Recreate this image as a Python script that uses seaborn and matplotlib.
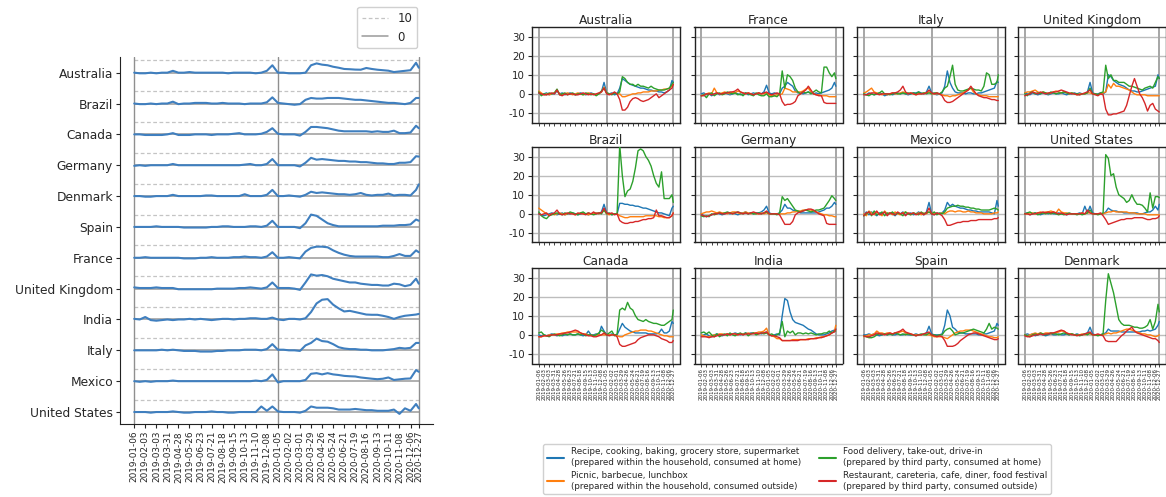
import numpy as np
import pandas as pd
import matplotlib
matplotlib.use("Agg")
import matplotlib.pyplot as plt
from matplotlib.lines import Line2D
import seaborn as sns

# ---------------------------------------------------------------------------
# Weekly search-interest changes (2019-01-06 .. 2020-12-27), sampled every
# second week plus the final week -> 53 values per series.
# ---------------------------------------------------------------------------
WEEKS = pd.date_range("2019-01-06", "2020-12-27", freq="W-SUN")
SAMPLE_DATES = WEEKS[::2].append(WEEKS[-1:])
TICK_DATES = WEEKS[::4].append(WEEKS[-1:])
TICK_LABELS = [d.strftime("%Y-%m-%d") for d in TICK_DATES]
YEAR_MARKS = [WEEKS[0], pd.Timestamp("2020-01-05"), WEEKS[-1]]

RIDGE_ORDER = ["Australia", "Brazil", "Canada", "Germany", "Denmark", "Spain",
               "France", "United Kingdom", "India", "Italy", "Mexico",
               "United States"]

GRID_ORDER = [["Australia", "France", "Italy", "United Kingdom"],
              ["Brazil", "Germany", "Mexico", "United States"],
              ["Canada", "India", "Spain", "Denmark"]]

CATEGORIES = [
    "Recipe, cooking, baking, grocery store, supermarket\n(prepared within the household, consumed at home)",
    "Picnic, barbecue, lunchbox\n(prepared within the household, consumed outside)",
    "Food delivery, take-out, drive-in\n(prepared by third party, consumed at home)",
    "Restaurant, careteria, cafe, diner, food festival\n(prepared by third party, consumed outside)",
]
PALETTE = ["#1f77b4", "#ff7f0e", "#2ca02c", "#d62728"]

# overall food-related interest (left ridge chart)
OVERALL = {
    "Australia": [0,-0.5,-0.5,0,-0.5,0,0,1.5,0,0,0.5,0,0,0,0,0,0,-0.5,0,0,0,0,-0.5,0,1.5, 6,
                  0,0,-0.5,-0.5,-0.5,
                  0,6,7.5,6.5,6,4.8,4,3,2.8,2.5,2.4,3.8,3,2.4,2,1.6,0.5,1,1.5,2,8,4],
    "Brazil": [0,-0.5,-0.5,0,-0.5,0,0,1.5,-0.5,0,0,0.5,0.5,0.5,0,0,0.5,0,0,0,-0.5,0,0,0,1, 5,
               0.5,0,-0.5,-1,-0.5,
               3,4.5,4,4,4.5,4.5,4.5,4,3.5,3,3,2.5,2,1.5,1,0.5,0.5,0,-0.5,0.5,4.5,4.5],
    "Canada": [0,0,-0.5,-0.5,-0.5,-0.5,0,1,-0.5,-0.5,-0.5,0,0,0,-0.5,0,0,0,0.5,1,0,0,0,0.5,2, 5,
               0.5,0,0,0,-1,
               2,6,6,5.5,5,4,3,2.5,2.5,2.5,2.5,2.5,2,2.5,2,2,3,1,1,1.5,7,5],
    "Germany": [-0.5,0,-0.5,0,0,0,0,1,0,0,0,0,0,0,0,0,0,0,0,0,0.5,1,0,0,1, 5,
                0,0,0,0,-1,
                2,6,4.5,5,4.5,4,3.5,3.5,3,3,2.5,2.5,2,1.5,1.5,1,1,2,2,2.5,7.3,7],
    "Denmark": [0,0,-0.5,-0.5,0,0,0,1,0,0,0,0,0,0.5,0.5,0,0,0,0,0,1.5,0,0,0,1, 5,
                0,0,0.5,0,-0.5,
                1,3.5,2.5,3,2.5,2,1.5,1.5,1,1.5,2.5,1,0.5,1,1,2,0.5,1,1,0.5,5,9.5],
    "Spain": [0,0,0,0,0.5,0,0,0,0,-0.5,-0.5,-0.5,-0.5,-0.5,0,0,0.5,0.5,0,0,0,0.5,0.5,0,1, 5,
              0,0,0,0,-1,
              3,10,9,6,3,1.5,0.5,0.5,0.5,0.5,0.5,0.5,0.5,0.5,1,1,1,1.5,1.5,2,6,5],
    "France": [0,0,0.5,0,0,0,0,0,0,-0.5,-0.5,-0.5,0,0,0.5,0,0,0,0.5,0.5,1,0.5,0.5,0,1, 4.5,
               0,0,0.5,0,-0.5,
               5,8,9,9,8.5,6,4,2.5,1.5,1,1,1,1,1,0.5,0.5,1.5,3,1.5,1.5,6,4.5],
    "United Kingdom": [1,0.5,0.5,0.5,1,0.5,0.5,0.5,-0.5,-0.5,-0.5,-0.5,-0.5,-0.5,-0.5,0,0,0,0,0.5,0.5,1,0.5,0,1, 5,
                       0.5,0.5,0.5,0,-1,
                       5,11.5,10.5,11,10,8,7,6,5,5,4,3.5,3,3,2.5,2.5,4,3.5,2,3,8,4],
    "India": [0.5,0,2,-0.5,-1,-0.5,0,-0.5,0,0,0.5,0,0.5,0,-0.5,0,0.5,0.5,0,0.5,0.5,1,1,0.5,0.5, 1.5,
              0,-0.5,0.5,0.5,0,
              1,6,13,16,16.5,12,9,6.5,7,6,5,4,3.8,3.8,3,2,0.5,2,3,3.5,4,4.5],
    "Italy": [0,0,0,0,0,0.5,0,0.5,0,-0.5,-0.5,-0.5,-1,-1,-1,-0.5,-0.5,0,0,0,0.5,0.5,0.5,0,1, 5,
              0.5,0.5,0,0,-0.5,
              4,6,9.5,7.5,7,5,2.5,1.5,1,1,0.5,0.5,0,0,0,0.5,1,2,1.5,2,6,6],
    "Mexico": [0,-0.5,0,-0.5,0,0,0,0.5,0,0,0,0,0,0,0,0,0,0,0,0,0,0,0.5,0,1, 5.5,
               -1,0,0,0,0,
               1,6,6.5,5.5,6.5,5.5,5,4.3,4,3.8,3,2.5,2,1.6,2,3,1,1.5,2,2.2,9,7.6],
    "United States": [0,0,0,-0.5,0,0,0,0.5,0,-0.5,-0.5,0,0,0,0.5,0,0,-0.5,-0.5,0,0,0,0,4.5,1, 4.5,
                      0.5,0,0,0,-0.5,
                      1,4.5,3.5,3.5,3.5,3,2,2,2,2.5,2,1.5,1.5,1,1,1,2,-1.5,3,1,6.5,3],
}

RECIPE = {
    "Australia": [0.5,-0.5,0,0.5,-0.5,0,0,1.5,0,0.5,-0.5,0,0.5,0,-0.5,0,0.5,0,-0.5,0,0.5,0,-0.5,0,1, 6,
                  0.5,0,0.5,-0.5,0,
                  3,8,7,6,5,4.5,4,3.5,3,3,2.5,2,2,1.5,1.5,1,1,0.5,1,2,7,6],
    "France": [0,0.5,-0.5,0,-1,0,0.5,-0.5,0,0.5,0,-0.5,0,0.5,0,-0.5,0,0.5,-0.5,0,0.5,0,0.5,0,1, 4.5,
               0.5,0,0.5,0,0,
               3,4,6,5,4,1.5,0.5,0.5,0,0.5,1,0.5,0,0.5,0,0.5,1,1.5,2,3,6,4],
    "Italy": [0,-0.5,0.5,0,-0.5,0,0.5,0,-1,-0.5,0,-0.5,0,0.5,0,0.5,0,-0.5,0,0.5,0.5,1,0.5,0,1, 4,
              0.5,0,-0.5,0,0.5,
              4,12,6,3,1,0.5,0.5,0.5,0,0.5,0.5,0,0,0.5,0.5,1,1.5,2,2.5,3,6.5,6],
    "United Kingdom": [0.5,0,-0.5,0.5,0,-0.5,0,0.5,0,-0.5,0,0.5,0,0,0.5,0,-0.5,0,0,0.5,0,0.5,0,0,1, 6,
                       0.5,0,0,0.5,0,
                       1,10,9,7,6,5,4.5,4,3,2,1.5,1.5,1,1,1.5,2,2.5,3,3.5,4,10,8],
    "Brazil": [0,-0.5,-1,-0.5,0,0.5,0,-0.5,0,0.5,-0.5,0,0,0.5,0,-0.5,0,0.5,0,-0.5,0,0,0.5,0,1, 5,
               0.5,0,-0.5,0,0,
               5.5,5.5,5,5,4.5,4.5,4,4,3.5,3,3,2.5,2,1.5,1,0.5,0.5,0,-0.5,-1,3,4],
    "Germany": [0,-1,-1.5,-1,-0.5,0,0.5,0,-0.5,0,0.5,0,0.5,0,-0.5,0,0.5,1,0,0.5,0,0.5,0.5,1,2, 4,
                0.5,0,0,0,0.5,
                2,5,3,3,2,1.5,1,0.5,0.5,0.5,0.5,0.5,0.5,0.5,1,1.5,2,3,3,4,6,5],
    "Mexico": [-1,1,-0.5,1,0,-1,0.5,0,1,-0.5,0.5,0,-1,0.5,0,1,-0.5,0,0.5,-0.5,0,1,0,-0.5,1, 6,
               0,-0.5,0.5,0,0.5,
               2,6,4,5,4,3.5,3,3,2.5,2,2,1.5,1.5,1,1,1,1,1,0.5,0,7,4],
    "United States": [0,0.5,-0.5,0,0.5,0,-0.5,0,0.5,0,0.5,0,0,0.5,0,0,-0.5,0,0,0,0,0.5,0,4,0.5, 4,
                      0.5,0,0,0,0,
                      1,3,2,1.5,1.5,1,1,0.5,0.5,0.5,0.5,0.5,0.5,0,0,0.5,1,1,2,4,2,5],
    "Canada": [0,-0.5,0,-0.5,0,0.5,0,-0.5,0,-0.5,0,0,0.5,0,0,0.5,0,-0.5,0,2,0,0,0.5,0,4.5, 2,
               0,0,0.5,0,0,
               3,6,4,3,2,1.5,1,1,1,1,1,0.5,0.5,0.5,0.5,1,3,1,1,2,7,6],
    "India": [-0.5,0,0.5,-0.5,-1,0,0.5,0,-0.5,0,0.5,0,0.5,1,0.5,0,0.5,1,0.5,1,1,0.5,1,0.5,1, 1.5,
              0,-0.5,0,0.5,0,
              10,19,18,12,8,6.5,6,5.5,5,4,3,2.5,1.5,0.5,0,0,0,0.5,1,2,2.5,3],
    "Spain": [0,0,0.5,0,0.5,0,-0.5,0,0.5,0,0.5,0,0,0.5,0,0,0.5,0,0,0,0.5,0,0,0.5,1, 4.5,
              0.5,0,0,0,0.5,
              5,13,10,4,3,1.5,1,1,0.5,0.5,0.5,0.5,0.5,0,0,0.5,0.5,1,1.5,2,6,5],
    "Denmark": [0,0.5,0,0.5,-0.5,0,0.5,0,-0.5,0,0.5,0,0,0.5,0,0,0.5,0,0.5,0,0.5,0,0,0.5,1, 4,
                0.5,0,0,0,0.5,
                1,3,2,2,2,2,1.5,1.5,1.5,1.5,1.5,1.5,1.5,1.5,2,2,2.5,2,2.5,3,5,7],
}

PICNIC = {
    "Australia": [1.5,0.5,-0.5,0,-0.5,0,0.5,2,0,-0.5,0,0.5,0,-0.5,0,0.5,0,-0.5,0,0.5,0,0,-0.5,0,1, 3.5,
                  0.5,0,0,0.5,0,
                  0,-1.5,-1.5,-1,-0.5,0,0,0.5,0.5,1,1,1,1.5,1.5,1.5,2,2,2.5,2.5,3,4,5],
    "France": [-1,-0.5,0,0.5,0,3,0.5,0,0.5,1,0.5,0,1,0.5,1.5,1,0.5,0,0.5,0,-0.5,0,0.5,0,0, 0.5,
               -0.5,-1,-1,-0.5,-0.5,
               0,3,2.5,2,1,1,1,1,1.5,2.5,3,1,0,-0.5,-0.5,-1,-1,-1,-1.5,-1.5,-1.5,-1.5],
    "Italy": [0.5,1,2,3,1,0.5,0,-0.5,0,-0.5,0,0.5,0,0,0.5,1,0.5,0,0.5,0,-0.5,0,0,0.5,0.5, 1,
              0,0,0,0,-0.5,
              -1,-1,-1.5,-1,-1,-0.5,0,0.5,1.5,2,3,1,0,-0.5,-1,-1,-1,-1.5,-1.5,-1.5,-1.5,-1.5],
    "United Kingdom": [0.5,1,1,1.5,2,1,0.5,1,0.5,0,0.5,1,1.5,1,0.5,1,0.5,0,0.5,0,-0.5,0,0,0,0.5, 0.5,
                       0,0,-0.5,0,0.5,
                       1,5,3,5.5,4,4,3.5,3,2.5,2,1,0,-0.5,-0.5,-0.5,-0.5,-1,-1,-1,-1,-1,-1],
    "Brazil": [3,2,1,0,-0.5,0,-0.5,0,0.5,0,-0.5,0,0.5,0,-0.5,0,0.5,0,0,-0.5,0,0,0.5,0,0.5, 2,
               0,-0.5,0,0,0,
               -1,-1.5,-2,-2,-1.5,-1.5,-1.5,-1.5,-1.5,-1.5,-1,-1,-1,-1,-1,-1.5,-1.5,-2,-2,-2,-1,0.5],
    "Germany": [0,0.5,1,1,1.5,1,0.5,1,0.5,0.5,0,0.5,1,1,0.5,0,0.5,1,0.5,0,0.5,0,0,0.5,0, 0.5,
                0,0,0,0,0,
                0,0,0.5,0.5,1,1,1.5,1.5,2,2,2,2,1.5,1,0.5,0,-0.5,-0.5,-1,-1,-1.5,-1.5],
    "Mexico": [0,-1,1.5,0.5,-0.5,1,0,-1,1.5,0,0.5,-0.5,1,0,-0.5,0.5,1,0,-0.5,0.5,0,0.5,-0.5,0.5,0, 1,
               0,0.5,0,0,0.5,
               0,1,1.5,1.5,1,1.5,1.5,1,1,1.5,1,1,0.5,0.5,0.5,0,0,0,0,0.5,0.5,1],
    "United States": [0,0,0.5,0.5,0,0.5,1,0.5,1,1,1.5,1,0.5,2.5,1,0.5,0.5,0,0,0,0,0,0.5,0,0.5, 0.5,
                      0,0,0,0,0,
                      0.5,1,1,1.5,1,1,1,1,1,0.5,0.5,0.5,0,0,0,0,-0.5,-0.5,-0.5,-0.5,-0.5,-0.5],
    "Canada": [-1,-1,-0.5,-0.5,0,0,0,0.5,0.5,1,1,1.5,1.5,1.5,1.5,1.5,1,0.5,0.5,0,0,-0.5,0,0,0, 0,
               0,0,0,0,-0.5,
               -1,-1,0,0.5,1,1.5,2,2,2.5,2.5,2.5,2,2,1.5,1,0.5,0,-0.5,-0.5,-1,-1,-1],
    "India": [0,-0.5,-1,-1,-0.5,0,0,0.5,0.5,0,0.5,0,0.5,0.5,0,0.5,0.5,0.5,1,0.5,1,1,1.5,1.5,2, 3.5,
              0,-0.5,-1,-2,-2,
              -3,-3,-3,-3,-2.5,-2.5,-2.5,-2.5,-2.5,-2.5,-2,-2,-2,-1.5,-1.5,-1,-1,-0.5,0,1,2,5],
    "Spain": [-1,-0.5,0,0,0.5,2,1,1,0.5,1,1,0.5,1,1,1.5,2,1,0.5,0.5,0,0,0,0,0.5,0, 0,
              -0.5,-1,-1,-1,-1,
              -1.5,-2,-1,0,1,1.5,2,2,2.5,2.5,2.5,2,1.5,1,0.5,0,-0.5,-1,-1,-1.5,-1.5,-1],
    "Denmark": [0,-0.5,0,0.5,1,0.5,1,0.5,1,1,0.5,1,1,1.5,2,2,1,0.5,0.5,0,0,0,0.5,0,0.5, 0.5,
                0,0,0,0,0,
                0.5,1,0.5,1,1,1.5,2,2.5,3,3,2.5,2,1.5,1,0.5,0.5,0,0,-0.5,-1,-0.5,0],
}

DELIVERY = {
    "Australia": [1,-1,0,-0.5,0.5,0,0.5,2.5,-0.5,0,0.5,-0.5,0,0.5,-0.5,0,0,-0.5,0.5,0,-0.5,0,-1,0,1.5, 3,
                  0.5,0,-0.5,0.5,0,
                  1,9,8,6,5,5,4,5,4,4,3.5,3,4,3,2.5,2,2,2,2.5,3,5,6],
    "France": [-1,-0.5,-2,0,0.5,-1,0,0.5,-0.5,0,1,0.5,0,0.5,-0.5,0,-1,0.5,0,-0.5,-1,0.5,-0.5,-1,-1, 0,
               -1.5,-1.5,-1,-1.5,0,
               12,3,10,9,7,3,1,0,1,0.5,1,0,1,2,1,0.5,14,14,11,9,11,8],
    "Italy": [0,-0.5,-1,0,-0.5,0,0.5,1.5,0,0,-0.5,0,0.5,0,0,0.5,0,0.5,0,0.5,0,1,0,0.5,0, 0.5,
              0,0.5,0.5,0,1,
              3,4,9,15,5,2,1.5,1.5,2,2.5,3,2.5,2,2,1.5,4,11,10,5,5,6,10],
    "United Kingdom": [0,-1,0.5,1,0,0.5,0,1,0.5,0,1,0.5,0,0.5,0.5,1,0.5,0,0.5,0,0,-0.5,0,0,0.5, 3,
                       0,0,-0.5,0.5,1,
                       15,8,10,7,7,6,6,6,5,4,4,3.5,3,2.5,2,3,3.5,4,3,6,9,8],
    "Brazil": [1,-1,-2,-2.5,-1,-0.5,0,0.5,0,-0.5,0.5,0,1,0.5,0,-0.5,0.5,1,0,0.5,0,-0.5,0,0.5,0, 2,
               0,0.5,-0.5,0,0,
               36,20,9,12,13,17,24,33,34,33,30,28,25,20,16,14,22,8,8,8,10,6],
    "Germany": [-1,-1.5,-1,-1.5,0,-0.5,0,0.5,0,0.5,1,0.5,0,0.5,1,0.5,0,0.5,0,0.5,0,0,0.5,0,0.5, 1,
                0,0,0,-0.5,0.5,
                9,7,8,6,4,2,1.5,1,1.5,2,1.5,1,1.5,2,2,2.5,3,5,7,9.5,8,7],
    "Mexico": [-1,0,1,-1,1.5,-0.5,0,1,-1,0.5,0,1,-0.5,0.5,0,-1,1,0,-0.5,0.5,0,-0.5,1,0,0.5, 1,
               0,1,-0.5,0.5,0,
               1,3,3.5,4,4,4.5,4,4,3.5,3.5,3,3,2.5,2.5,2,2,2,2,2.5,3,2.5,2],
    "United States": [0,0.5,1,0,0.5,-0.5,0,0.5,0,0.5,0,0.5,0,-0.5,0,-0.5,0,0.5,0,0,-0.5,0,-0.5,0,0.5, 2,
                      0,0,-0.5,0,0.5,
                      31,29,20,21,14,10,9,8,6,7,10,7,5,5,4.5,3,1,11,3,9,9,8.5],
    "Canada": [1,1.5,0,-0.5,-1,0,0.5,0,-0.5,0,0.5,0,0.5,0,0,0.5,0,0.5,-0.5,0,0,-0.5,0,1,2.5, 1.5,
               0,1,2,-0.5,0.5,
               13,14,13,17,14,13,10,8,7.5,7,8,7,6.5,6,6,5.5,5,5,6,7,8,13],
    "India": [1,1.5,0.5,1.5,0,-1,0.5,-1,0,0.5,-0.5,1,0,-0.5,0.5,1,0,1,-0.5,0.5,1,0,0.5,1,0.5, 1,
              0,0.5,-0.5,0,1,
              7,-1,2,1,2,0,1,1,0.5,1,0.5,1,0.5,0,0.5,0.5,1,1,2,1,2,2],
    "Spain": [-0.5,-1,-1.5,-1.5,-1,0,0.5,0,0.5,0,0.5,0,1,0.5,0,0.5,0,0.5,0,0,-0.5,0,0.5,0,0, 1,
              0,0,-0.5,0,0,
              2,3,3.5,2,0,0.5,1,1,1.5,2,2.5,3,2.5,2,1.5,1,3,6,3,4,3.5,3],
    "Denmark": [0,-0.5,-1,0,0.5,0,1,0.5,0,0.5,1,0.5,0.5,0,0.5,1,0.5,0,0.5,0,0,-0.5,0,0.5,0, 1,
                0,0,-0.5,0,0.5,
                18,32,27,22,15,8,6,5,5,5,4.5,4,4,3.5,3.5,4,5,8,3,7,16,12],
}

RESTAURANT = {
    "Australia": [0.5,0,-0.5,-0.5,0,0.5,0,2,-0.5,-1,0,-0.5,0,0,-0.5,-0.5,0,0.5,0,-0.5,0,-0.5,0,0.5,1, 3,
                  0,-0.5,0,1,0,
                  -3,-8.5,-8.5,-7,-4,-2.5,-2,-2.5,-3.5,-4,-3.5,-3,-2,-1,0,-2,-1,0,1,2,3,5],
    "France": [-1,-1,0,0,-0.5,0,0.5,0,0,0.5,0.5,1,1,1.5,2.5,1,0.5,0,0.5,0,-0.5,0,0.5,0,0.5, 1,
               0,-0.5,0,0.5,0,
               -4,-6,-5.5,-5.5,-5,-4,-1,0,1,2,4,2,0,-0.5,-1,-1,-4.5,-5,-5,-5,-5,-5],
    "Italy": [-0.5,-0.5,0,0.5,0.5,0,-0.5,0,0,0,0,0.5,0.5,1,2,4,1,0,0.5,0,-0.5,0,0,0,0.5, 2,
              0.5,0,0.5,0,-1,
              -3.5,-4.5,-4.5,-4,-3,-2,-1,0,1,2,4,2,0,-1,-1.5,-2,-2,-2.5,-3,-3,-3.5,-3.5],
    "United Kingdom": [-1,-0.5,0,1,0.5,0,1,0.5,0,0.5,0.5,1,1,1.5,2,1.5,1,0.5,0,0,-0.5,-0.5,0,0.5,1, 2,
                       0,-0.5,-1,0,-0.5,
                       -8,-11,-11,-10.5,-10.5,-10,-9.5,-9,-6,-1,4,8,4,0,-2,-5,-9,-6,-5,-8,-9,-9.5],
    "Brazil": [0,-0.5,0,0.5,-1,0,0.5,2,0,-0.5,0,0.5,0,0,-0.5,0.5,0,0,-0.5,0.5,0,1,0,0.5,0.5, 3,
               0.5,0,0.5,-0.5,0,
               -3.5,-4.5,-5,-5,-4.5,-4.5,-4,-4,-3.5,-3,-3,-2.5,-2.5,-2,2,-1,-1,-1.5,-2,-2,-1,0.5],
    "Germany": [-0.5,-1,-1.5,-1,-0.5,0,0,0.5,0,0,0.5,0.5,0,0.5,1,0.5,0,0.5,0,0.5,1,0.5,0,0,0.5, 1.5,
                0,0,0,0,-0.5,
                -3,-5.5,-5.5,-5.5,-4,-0.5,0.5,1,1.5,2,2.5,2.5,2,1,0,-0.5,-1,-5,-5.5,-5.5,-5.5,-5.5],
    "Mexico": [-1,0.5,1,-0.5,0,1.5,-0.5,0,1,-1,0.5,0,-0.5,1,0,0.5,-1,0.5,0,0.5,-0.5,0,0.5,-0.5,0.5, 3,
               0,-0.5,0.5,0,-1,
               -3,-6,-6,-5.5,-5,-4.5,-4.5,-4,-4,-4,-3.5,-3.5,-3.5,-3,-3,-3,-3,-3,-3,-2.5,-2.5,-2],
    "United States": [0,0,-0.5,0,0,0.5,0.5,1,0.5,1,0.5,1,0.5,0,0.5,0,-0.5,0,0,0,0,0,0.5,0,2, 0.5,
                      0,0,0,0.5,-1,
                      -3,-5.5,-5,-4.5,-4,-3.5,-3,-3,-2.5,-2.5,-2.5,-2,-2,-2,-2,-2.5,-3,-3,-2.5,-2.5,-2,-1],
    "Canada": [-1,-1,-0.5,-0.5,-0.5,0,0,0,0.5,0.5,1,1,1.5,2,2.5,2,1,0.5,0,-0.5,-0.5,-1,-1,-0.5,0, 1,
               0,-0.5,0,0,-1,
               -5,-6,-6,-5.5,-5,-4.5,-4,-2.5,-1.5,-1,-0.5,0,0,0,-0.5,-1,-2,-2.5,-3,-4,-4,-3],
    "India": [-1,-1,-1,-1.5,-1,-1,-0.5,0,0,0,0.5,0,0.5,0.5,0,0.5,0,0.5,0.5,0.5,0.5,1,0.5,1,1, 1.5,
              0,-0.5,-0.5,-1,-1.5,
              -3,-3,-3,-3,-3,-3,-3,-2.5,-2.5,-2.5,-2.5,-2,-2,-2,-1.5,-1.5,-1,-0.5,0,1,1.5,3],
    "Spain": [-0.5,-1,-1,-0.5,0,1,0.5,0.5,0,0.5,1,0.5,1,1.5,2,3,1.5,1,0.5,0,-0.5,0,0,0.5,1, 1.5,
              0,-0.5,-1,-0.5,-1,
              -3,-6,-6,-6,-5.5,-4.5,-3,-2,-1,0,0.5,1,1,0.5,0,-0.5,-1,-1.5,-2,-2.5,-2.5,-2],
    "Denmark": [-0.5,-1,-1,-0.5,0,0,0.5,0,0.5,0.5,1,1,1.5,2,2.5,2,1,0.5,0,0,-0.5,0,0,0.5,1, 1.5,
                0,0,0.5,0,-0.5,
                -3,-3.5,-3.5,-3.5,-3.5,-2,-0.5,0.5,2,3,4,2,1,0.5,0,-0.5,-1,-1.5,-2,-2,-3,-4],
}

SERIES = [RECIPE, PICNIC, DELIVERY, RESTAURANT]
for table in [OVERALL] + SERIES:
    for name, vals in table.items():
        assert len(vals) == len(SAMPLE_DATES), (name, len(vals))

# ---------------------------------------------------------------------------
W, H = 1166, 497
RIDGE_STEP = 25
RIDGE_COLOR = "#3f7fbf"


def px_rect(x0, y0, x1, y1):
    return [x0 / W, 1 - y1 / H, (x1 - x0) / W, (y1 - y0) / H]


sns.set_style("ticks")
plt.rcParams["font.family"] = ["DejaVu Sans"]
fig = plt.figure(figsize=(W / 100, H / 100), dpi=100)

# ----- left: stacked weekly profiles per country -----
ax = fig.add_axes(px_rect(120, 57, 433, 424))
n = len(RIDGE_ORDER)
offsets = []
for k, country in enumerate(RIDGE_ORDER):
    off = (n - 1 - k) * RIDGE_STEP
    offsets.append(off)
    ax.hlines(off + 10, WEEKS[0], WEEKS[-1], colors="#c4c4c4", linestyles=(0, (3, 2)),
              lw=0.9, zorder=1)
    ax.hlines(off, WEEKS[0], WEEKS[-1], colors="#9a9a9a", lw=1.1, zorder=1)
    sns.lineplot(x=SAMPLE_DATES, y=np.array(OVERALL[country]) + off, ax=ax,
                 color=RIDGE_COLOR, lw=1.5, zorder=3)
for d in YEAR_MARKS:
    ax.axvline(d, color="#8f8f8f", lw=1.0, zorder=2)
ax.set_ylim(-9.7, 287.7)
ax.set_yticks(offsets)
ax.set_yticklabels(RIDGE_ORDER, fontsize=8.8)
ax.set_xticks(TICK_DATES)
ax.set_xticklabels(TICK_LABELS, rotation=90, fontsize=6.4)
ax.set_xlim(WEEKS[0] - pd.Timedelta(days=36), WEEKS[-1] + pd.Timedelta(days=36))
ax.set_xlabel("")
ax.set_ylabel("")
ax.tick_params(axis="both", length=3, width=0.8, pad=2)
sns.despine(ax=ax)
for s in ("left", "bottom"):
    ax.spines[s].set_color("#222222")

ref_handles = [Line2D([], [], color="#c4c4c4", ls=(0, (3, 2)), lw=0.9),
               Line2D([], [], color="#9a9a9a", lw=1.1)]
fig.legend(ref_handles, ["10", "0"], loc="upper right",
           bbox_to_anchor=(417 / W, 1 - 7 / H), fontsize=8.5, frameon=True,
           handlelength=2.2, borderaxespad=0, framealpha=1, edgecolor="#d0d0d0")

# ----- right: small multiples by food category -----
col_left = [532, 694.5, 857, 1018]
row_top = [27, 147, 268]
pw, ph = 148, 95.5
for r, row in enumerate(GRID_ORDER):
    for c, country in enumerate(row):
        x0, y0 = col_left[c], row_top[r]
        sax = fig.add_axes(px_rect(x0, y0, x0 + pw, y0 + ph))
        frame = pd.DataFrame({
            "date": np.tile(SAMPLE_DATES, len(CATEGORIES)),
            "value": np.concatenate([np.asarray(t[country], float) for t in SERIES]),
            "category": np.repeat(CATEGORIES, len(SAMPLE_DATES)),
        })
        sns.lineplot(data=frame, x="date", y="value", hue="category",
                     hue_order=CATEGORIES, palette=PALETTE, lw=1.0,
                     legend=False, ax=sax, zorder=3)
        for d in YEAR_MARKS:
            sax.axvline(d, color="#a6a6a6", lw=1.4, zorder=1)
        sax.set_ylim(-15, 35)
        sax.set_yticks([-10, 0, 10, 20, 30])
        sax.set_axisbelow(True)
        sax.grid(axis="y", color="#bdbdbd", lw=1.0)
        sax.set_xticks(TICK_DATES)
        sax.set_xlim(WEEKS[0] - pd.Timedelta(days=36), WEEKS[-1] + pd.Timedelta(days=36))
        sax.set_title(country, fontsize=8.8, pad=2)
        sax.set_xlabel("")
        sax.set_ylabel("")
        if r == len(GRID_ORDER) - 1:
            sax.set_xticklabels(TICK_LABELS, rotation=90, fontsize=4.0)
        else:
            sax.set_xticklabels([])
        if c == 0:
            sax.set_yticklabels(["-10", "0", "10", "20", "30"], fontsize=7.4)
        else:
            sax.set_yticklabels([])
        sax.tick_params(axis="x", length=2, width=0.6, pad=1)
        sax.tick_params(axis="y", length=3, width=0.8, pad=2)
        for s in sax.spines.values():
            s.set_color("#222222")
            s.set_linewidth(1.0)

cat_handles = [Line2D([], [], color=col, lw=1.5) for col in PALETTE]
fig.legend(cat_handles, CATEGORIES, loc="upper left",
           bbox_to_anchor=(543 / W, 1 - 444 / H), ncol=2, fontsize=6.3,
           frameon=True, borderaxespad=0, framealpha=1, edgecolor="#d0d0d0",
           handlelength=2.0, columnspacing=2.0)

fig.savefig("out.png", dpi=100)
